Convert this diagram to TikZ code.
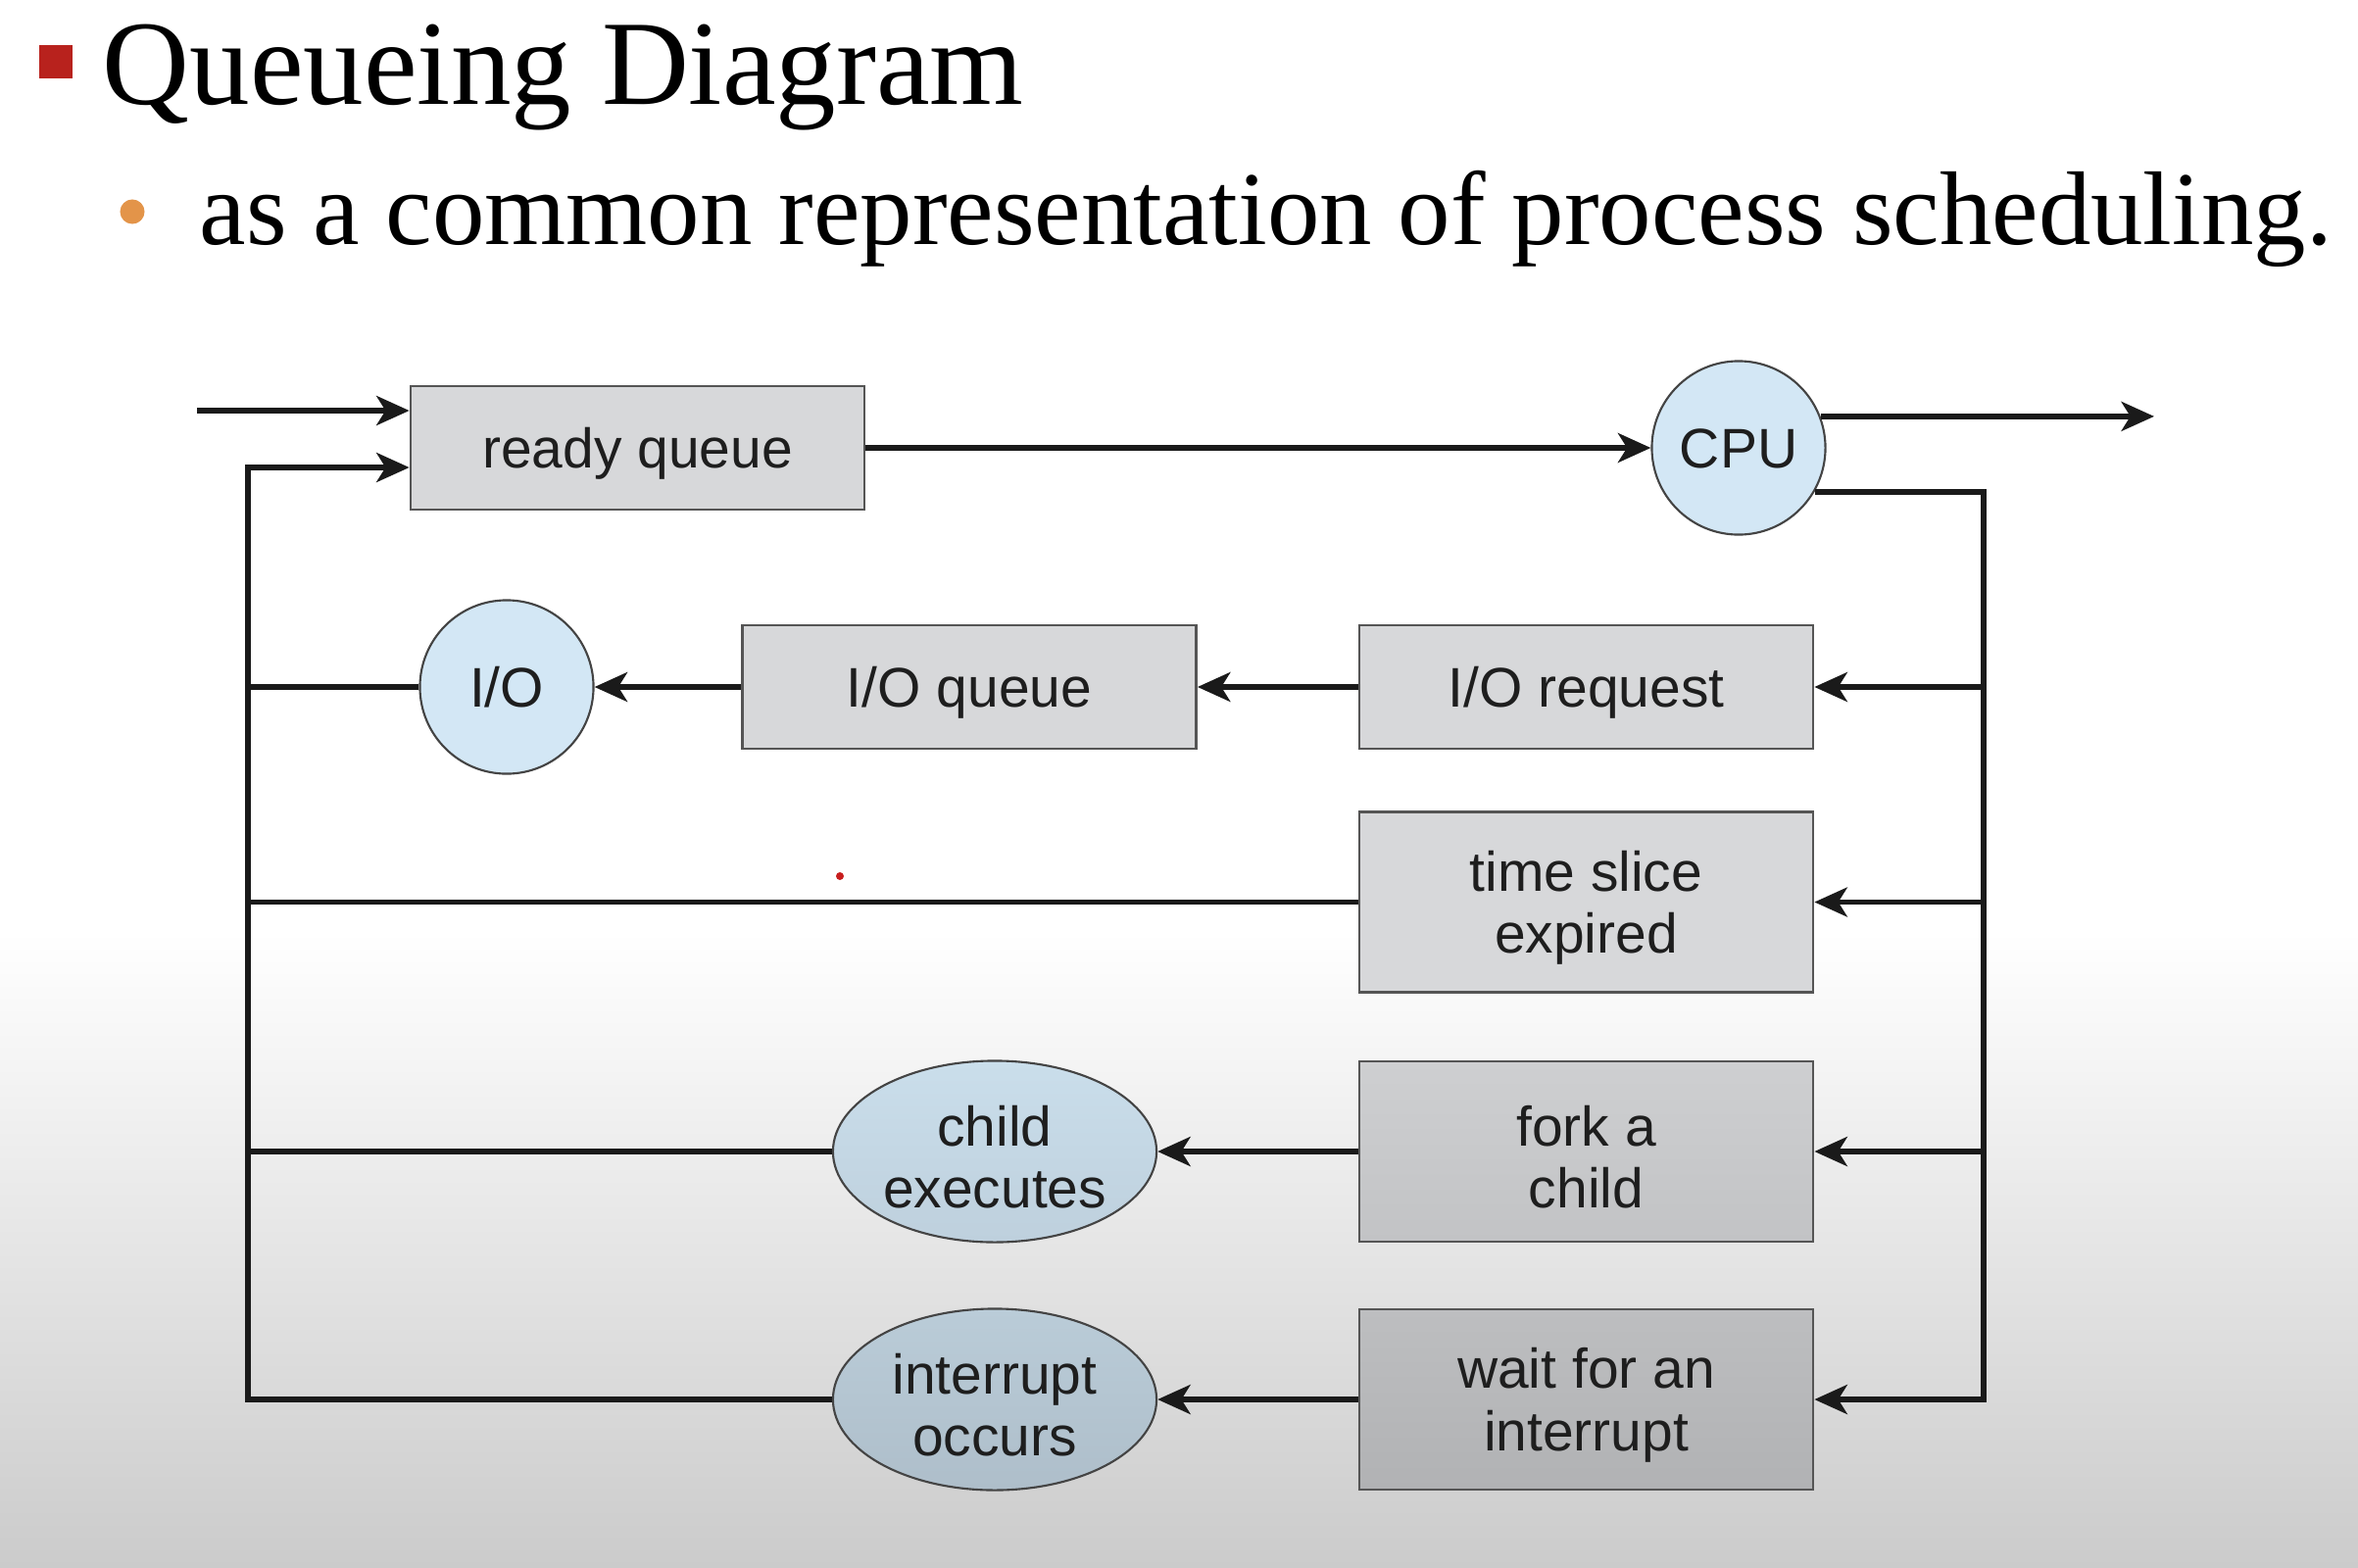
\documentclass[tikz,border=0pt]{standalone}
\usepackage{fontspec}
\setmainfont{Liberation Serif}
\newfontfamily\diagfont{Liberation Sans}
\usetikzlibrary{arrows.meta,shapes.geometric}
\definecolor{boxfill}{HTML}{D7D8DA}
\definecolor{boxborder}{HTML}{555555}
\definecolor{circfill}{HTML}{D3E7F5}
\definecolor{circborder}{HTML}{444444}
\definecolor{linecol}{HTML}{1A1A1A}
\definecolor{textcol}{HTML}{1E1E1E}
\definecolor{bulletred}{HTML}{B8221D}
\definecolor{bulletorange}{HTML}{E39449}
\definecolor{dotred}{HTML}{C81E1E}
\definecolor{bgbottom}{HTML}{CBCBCB}
\definecolor{forktop}{HTML}{CECFD1}
\definecolor{forkbot}{HTML}{C2C3C5}
\definecolor{waittop}{HTML}{BDBEC0}
\definecolor{waitbot}{HTML}{B1B2B4}
\definecolor{childtop}{HTML}{CADEEB}
\definecolor{childbot}{HTML}{BED0DD}
\definecolor{intrtop}{HTML}{BACCD8}
\definecolor{intrbot}{HTML}{AEBECA}
\newcommand\firststrut{\rule{0pt}{15pt}}
\begin{document}
\begin{tikzpicture}[x=0.01cm,y=-0.01cm,
  lbl/.style={font=\diagfont\fontsize{16.2}{18}\selectfont, text=textcol, align=center, inner sep=0pt},
  one/.style={text height=12pt, text depth=0.6pt},
  qbox/.style={lbl, rectangle, draw=boxborder, line width=0.7pt, fill=boxfill, minimum width=4.63cm, minimum height=1.26cm},
  tallbox/.style={qbox, minimum height=1.84cm},
  res/.style={lbl, one, circle, draw=circborder, line width=0.6pt, fill=circfill, minimum size=1.77cm},
  evt/.style={lbl, ellipse, draw=circborder, line width=0.6pt, fill=circfill, minimum width=3.3cm, minimum height=1.85cm},
  conn/.style={draw=linecol, line width=1.6pt, line join=miter},
  arr/.style={conn, -{Stealth[length=9.5pt,width=8.5pt,inset=2.6pt]}}
]
% page with the slide's grey fade at the bottom
\fill[white] (0,0) rectangle (2406,1600);
\shade[top color=white, bottom color=bgbottom] (0,950) rectangle (2406,1600);
\useasboundingbox (0,0) rectangle (2406,1600);

% heading
\node[fill=bulletred, minimum size=0.34cm, inner sep=0pt] (b1) at (57,63) {};
\node[anchor=base west, inner sep=0pt, font=\fontsize{35}{40}\selectfont] (title) at (104,107) {Queueing Diagram};
\node[circle, fill=bulletorange, minimum size=0.25cm, inner sep=0pt] (b2) at (135,216) {};
\node[anchor=base west, inner sep=0pt, font=\fontsize{30.4}{36}\selectfont] (sub) at (203,250) {as a common representation of process scheduling.};

% nodes
\node[qbox, one] (rq) at (650.5,457) {ready queue};
\node[res] (cpu) at (1774,457) {CPU};
\node[qbox, one] (ioreq) at (1618.5,701) {I/O request};
\node[qbox, one] (ioq) at (989,701) {I/O queue};
\node[res] (io) at (517,701) {I/O};
\node[tallbox] (ts) at (1618.5,920.5) {\firststrut time slice\\expired};
\node[tallbox, top color=forktop, bottom color=forkbot] (fork) at (1618.5,1175) {\firststrut fork a\\child};
\node[evt, top color=childtop, bottom color=childbot] (child) at (1015,1175) {\firststrut child\\executes};
\node[tallbox, top color=waittop, bottom color=waitbot] (wait) at (1618.5,1428) {\firststrut wait for an\\interrupt};
\node[evt, top color=intrtop, bottom color=intrbot] (intr) at (1015,1428) {\firststrut interrupt\\occurs};
\node[circle, fill=dotred, minimum size=0.08cm, inner sep=0pt] (dot) at (857,894) {};

% coordinates
\coordinate (in1) at (201,419);
\coordinate (lt) at (253,477);
\coordinate (lb) at (253,1428);
\coordinate (out) at (2198,425);
\coordinate (rt) at (2024,502);
\coordinate (rb) at (2024,1428);

% connectors
\draw[arr] (in1) -- (in1 -| rq.west);
\draw[arr] (intr.west) -- (lb) -- (lt) -- (lt -| rq.west);
\draw[conn] (io.west) -- (io.west -| lt);
\draw[conn] (ts.west) -- (ts.west -| lt);
\draw[conn] (child.west) -- (child.west -| lt);
\draw[arr] (rq.east) -- (cpu.west);
\draw[arr] (cpu.21) -- (cpu.21 -| out);
\draw[arr] (cpu.-30) -- (cpu.-30 -| rt) -- (rb) -- (wait.east);
\draw[arr] (ioreq.east -| rt) -- (ioreq.east);
\draw[arr] (ts.east -| rt) -- (ts.east);
\draw[arr] (fork.east -| rt) -- (fork.east);
\draw[arr] (ioreq.west) -- (ioq.east);
\draw[arr] (ioq.west) -- (io.east);
\draw[arr] (fork.west) -- (child.east);
\draw[arr] (wait.west) -- (intr.east);
\end{tikzpicture}
\end{document}
